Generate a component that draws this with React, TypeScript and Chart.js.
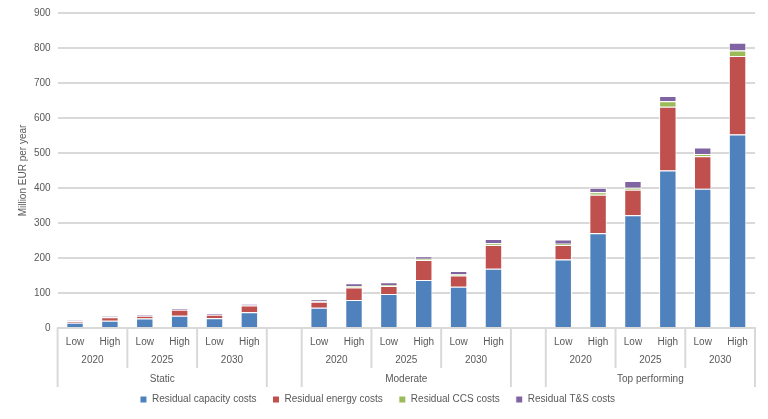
import React, { useEffect, useRef } from "react";
import { Chart, registerables } from "chart.js";

Chart.register(...registerables);

// Categories: Low/High per year, per scenario group (empty slot between groups)
const tickLabels = [
  "Low", "High", "Low", "High", "Low", "High", "",
  "Low", "High", "Low", "High", "Low", "High", "",
  "Low", "High", "Low", "High", "Low", "High",
];
const years = ["2020", "2025", "2030"];
const groups = ["Static", "Moderate", "Top performing"];

// Series values (Million EUR per year); null = empty gap slot
const capacityCosts = [15, 21, 27, 35, 28, 45, null, 58, 80, 97, 137, 118, 169, null, 196, 271, 322, 450, 398, 553];
const energyCosts = [5, 10, 8, 17, 10, 19, null, 17, 36, 23, 57, 32, 68, null, 41, 110, 73, 182, 93, 224];
const ccsCosts = [0, 0, 0, 0, 0, 0, null, 2, 4, 3, 4, 4, 5, null, 4, 7, 6, 16, 6, 16];
const tnsCosts = [2, 3, 3, 4, 4, 5, null, 5, 8, 8, 7, 9, 12, null, 12, 13, 19, 15, 19, 22];

const yTicks = [0, 100, 200, 300, 400, 500, 600, 700, 800, 900];

const TEXT = "#595959";
const LINE = "#d9d9d9";
const FONT = "'Liberation Sans', Arial, sans-serif";
const FS = 10;

const multiLevelAxis = {
  id: "multiLevelAxis",
  afterDraw(chart: any) {
    const x = chart.scales.x;
    const ctx = chart.ctx;
    const axisY = chart.chartArea.bottom;
    const half = (x.getPixelForValue(1) - x.getPixelForValue(0)) / 2;
    ctx.save();
    ctx.fillStyle = TEXT;
    ctx.strokeStyle = LINE;
    ctx.lineWidth = 2;
    ctx.font = `${FS}px ${FONT}`;
    ctx.textAlign = "center";
    ctx.textBaseline = "middle";
    groups.forEach((g, gi) => {
      const start = gi * 7;
      const end = start + 5;
      const left = x.getPixelForValue(start) - half;
      const right = x.getPixelForValue(end) + half;
      // tall separators
      [left, right].forEach((px) => {
        ctx.beginPath();
        ctx.moveTo(px, axisY);
        ctx.lineTo(px, axisY + 59);
        ctx.stroke();
      });
      years.forEach((yr, yi) => {
        const a = start + yi * 2;
        const cx = (x.getPixelForValue(a) + x.getPixelForValue(a + 1)) / 2;
        ctx.fillText(yr, cx, axisY + 32);
        if (yi > 0) {
          const px = x.getPixelForValue(a) - half;
          ctx.beginPath();
          ctx.moveTo(px, axisY);
          ctx.lineTo(px, axisY + 40);
          ctx.stroke();
        }
      });
      ctx.fillText(g, (left + right) / 2, axisY + 51);
    });
    ctx.restore();
  },
};

export default function App() {
  const ref = useRef<HTMLCanvasElement | null>(null);
  useEffect(() => {
    document.body.style.margin = "0";
    const c = ref.current;
    if (!c) return;
    const mk = (label: string, data: (number | null)[], color: string) => ({
      label,
      data,
      backgroundColor: color,
      borderColor: "#ffffff",
      borderWidth: 1,
      barPercentage: 0.5,
      categoryPercentage: 1,
    });
    const chart = new Chart(c, {
      type: "bar",
      data: {
        labels: tickLabels,
        datasets: [
          mk("Residual capacity costs", capacityCosts, "#4F81BD"),
          mk("Residual energy costs", energyCosts, "#C0504D"),
          mk("Residual CCS costs", ccsCosts, "#9BBB59"),
          mk("Residual T&S costs", tnsCosts, "#8064A2"),
        ],
      },
      options: {
        animation: false,
        responsive: true,
        maintainAspectRatio: false,
        layout: { padding: { top: 9, right: 13, left: 0, bottom: 4.5 } },
        plugins: {
          legend: {
            position: "bottom",
            labels: {
              boxWidth: 7,
              boxHeight: 7,
              padding: 16,
              color: TEXT,
              font: { family: FONT, size: FS },
            },
          },
          tooltip: { enabled: false },
        },
        scales: {
          x: {
            stacked: true,
            grid: { display: false },
            border: { display: true, color: LINE, width: 2 },
            ticks: {
              color: TEXT,
              font: { family: FONT, size: FS },
              padding: 0,
              maxRotation: 0,
              autoSkip: false,
            },
            afterFit(scale: any) {
              scale.height = 50.5;
            },
          },
          y: {
            stacked: true,
            min: 0,
            max: 900,
            afterBuildTicks(scale: any) {
              scale.ticks = yTicks.map((v) => ({ value: v }));
            },
            grid: { color: LINE, lineWidth: 2, drawTicks: false },
            border: { display: false },
            ticks: {
              color: TEXT,
              font: { family: FONT, size: FS },
              padding: 7,
            },
            title: {
              display: true,
              text: "Million EUR per year",
              color: TEXT,
              font: { family: FONT, size: FS },
              padding: { top: 17, bottom: 0 },
            },
            afterFit(scale: any) {
              scale.width = 57.6;
            },
          },
        },
      },
      plugins: [multiLevelAxis],
    });
    return () => chart.destroy();
  }, []);
  return (
    <div style={{ width: 768, height: 419, position: "relative", background: "#ffffff" }}>
      <canvas ref={ref} />
    </div>
  );
}
